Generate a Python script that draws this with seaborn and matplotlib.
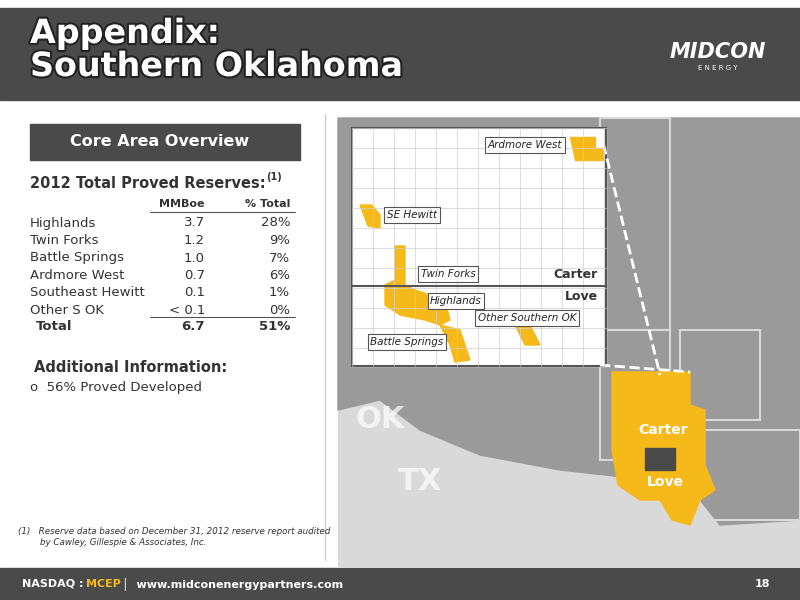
import matplotlib
matplotlib.use("Agg")
import matplotlib.pyplot as plt
import matplotlib.patheffects as pe
from matplotlib.patches import Rectangle, Polygon
import seaborn as sns

sns.set_style("white")
plt.rcParams['font.family'] = ['DejaVu Sans']

# reserves table
fields = ["Highlands", "Twin Forks", "Battle Springs", "Ardmore West", "Southeast Hewitt", "Other S OK"]
mmboe = ["3.7", "1.2", "1.0", "0.7", "0.1", "< 0.1"]
pct_total = ["28%", "9%", "7%", "6%", "1%", "0%"]
total_mmboe = "6.7"
total_pct = "51%"

# inset map field labels (name, x, y)
map_labels = [("Ardmore West", 525, 145), ("SE Hewitt", 412, 215), ("Twin Forks", 448, 274),
              ("Highlands", 456, 301), ("Other Southern OK", 527, 318), ("Battle Springs", 407, 342)]

YEL = "#f6b91a"
DARK = "#4a4a4a"
GRAY = "#9a9a9a"

fig = plt.figure(figsize=(8, 6), dpi=100)
ax = fig.add_axes([0, 0, 1, 1])
ax.set_xlim(0, 800)
ax.set_ylim(600, 0)
ax.axis("off")

# header and footer
ax.add_patch(Rectangle((0, 8), 800, 92, color=DARK))
ax.text(30, 50, "Appendix:\nSouthern Oklahoma", color="white", fontsize=24, fontweight="bold",
        va="center", linespacing=1.0,
        path_effects=[pe.withStroke(linewidth=3, foreground="#222222")])
ax.text(718, 58, "MIDCON", color="white", fontsize=15, fontweight="bold", style="italic", ha="center")
ax.text(718, 70, "E N E R G Y", color="white", fontsize=5, ha="center")
ax.add_patch(Rectangle((0, 568), 800, 32, color=DARK))
ax.text(22, 584, "NASDAQ : ", color="white", fontsize=8, fontweight="bold", va="center")
ax.text(86, 584, "MCEP", color=YEL, fontsize=8, fontweight="bold", va="center")
ax.text(122, 584, "│  www.midconenergypartners.com", color="white", fontsize=8, fontweight="bold", va="center")
ax.text(770, 584, "18", color="white", fontsize=8, fontweight="bold", va="center", ha="right")

# divider
ax.plot([325, 325], [115, 560], color="#cccccc", lw=1)

# left panel
ax.add_patch(Rectangle((30, 124), 270, 36, color=DARK))
ax.text(160, 142, "Core Area Overview", color="white", fontsize=11.5, fontweight="bold", ha="center", va="center")
ax.text(30, 183, "2012 Total Proved Reserves:", color="#333333", fontsize=10.5, fontweight="bold", va="center")
ax.text(266, 177, "(1)", color="#333333", fontsize=7, fontweight="bold", va="center")
ax.text(205, 204, "MMBoe", color="#333333", fontsize=8, fontweight="bold", ha="right", va="center")
ax.text(290, 204, "% Total", color="#333333", fontsize=8, fontweight="bold", ha="right", va="center")
ax.plot([150, 295], [212, 212], color="#555555", lw=0.8)
for i, (f, m, p) in enumerate(zip(fields, mmboe, pct_total)):
    y = 223 + i * 17.5
    ax.text(30, y, f, fontsize=9.5, color="#333333", va="center")
    ax.text(205, y, m, fontsize=9.5, color="#333333", va="center", ha="right")
    ax.text(290, y, p, fontsize=9.5, color="#333333", va="center", ha="right")
ax.plot([150, 295], [317, 317], color="#555555", lw=0.8)
ax.text(36, 327, "Total", fontsize=9.5, fontweight="bold", color="#333333", va="center")
ax.text(205, 327, total_mmboe, fontsize=9.5, fontweight="bold", color="#333333", va="center", ha="right")
ax.text(290, 327, total_pct, fontsize=9.5, fontweight="bold", color="#333333", va="center", ha="right")
ax.text(34, 367, "Additional Information:", fontsize=10.5, fontweight="bold", color="#333333", va="center")
ax.text(30, 388, "o  56% Proved Developed", fontsize=9.5, color="#333333", va="center")
ax.text(18, 537, "(1)   Reserve data based on December 31, 2012 reserve report audited\n        by Cawley, Gillespie & Associates, Inc.",
        fontsize=6.3, style="italic", color="#333333", va="center")

# map
ax.add_patch(Rectangle((338, 118), 462, 448, color="#d9d9d9"))
ax.add_patch(Polygon([(338, 118), (800, 118), (800, 520), (720, 525), (700, 500), (650, 480),
                      (560, 470), (480, 455), (420, 430), (380, 400), (338, 410)], color=GRAY))
for xs in [(600, 118, 670, 330), (680, 330, 760, 420), (600, 330, 670, 460), (700, 430, 800, 520)]:
    ax.add_patch(Rectangle((xs[0], xs[1]), xs[2] - xs[0], xs[3] - xs[1], fill=False, ec="#d9d9d9", lw=1.5))
ax.add_patch(Polygon([(612, 372), (690, 372), (690, 405), (705, 410), (705, 465), (715, 490), (700, 500),
                      (690, 525), (672, 520), (660, 500), (640, 500), (618, 485), (612, 450)], color=YEL))
ax.add_patch(Rectangle((645, 448), 30, 22, color=DARK))
ax.text(663, 430, "Carter", color="white", fontsize=10, fontweight="bold", ha="center", va="center")
ax.text(665, 482, "Love", color="white", fontsize=10, fontweight="bold", ha="center", va="center")
ax.text(380, 420, "OK", color="white", fontsize=22, fontweight="bold", ha="center", va="center", alpha=0.7)
ax.text(420, 482, "TX", color="white", fontsize=22, fontweight="bold", ha="center", va="center", alpha=0.7)
ax.plot([600, 660], [130, 375], color="white", lw=2, ls="--")
ax.plot([600, 690], [365, 372], color="white", lw=2, ls="--")

# inset grid
ax.add_patch(Rectangle((352, 128), 254, 238, color="white"))
for gx in range(352, 607, 21):
    ax.plot([gx, gx], [128, 366], color="#cfcfcf", lw=0.5)
for gy in range(128, 367, 20):
    ax.plot([352, 606], [gy, gy], color="#cfcfcf", lw=0.5)
ax.plot([352, 606], [286, 286], color="#555555", lw=1.5)
ax.add_patch(Rectangle((352, 128), 254, 238, fill=False, ec="#555555", lw=1.5))
for poly in [[(570, 137), (595, 137), (595, 148), (603, 148), (603, 160), (575, 160)],
             [(360, 205), (372, 205), (380, 215), (380, 228), (368, 226)],
             [(395, 246), (405, 246), (405, 285), (415, 290), (430, 295), (445, 300), (450, 320),
              (440, 325), (425, 320), (400, 315), (385, 305), (385, 285), (395, 280)],
             [(440, 325), (460, 330), (470, 360), (455, 362), (450, 345)],
             [(515, 325), (530, 325), (540, 345), (525, 345)]]:
    ax.add_patch(Polygon(poly, color=YEL))
for name, x, y in map_labels:
    ax.text(x, y, name, fontsize=7.5, style="italic", ha="center", va="center", color="#222222",
            bbox=dict(boxstyle="square,pad=0.25", fc="white", ec="#555555", lw=0.8))
ax.text(598, 274, "Carter", fontsize=9, fontweight="bold", ha="right", va="center", color="#333333")
ax.text(598, 296, "Love", fontsize=9, fontweight="bold", ha="right", va="center", color="#333333")

fig.savefig("out.png", dpi=100)
